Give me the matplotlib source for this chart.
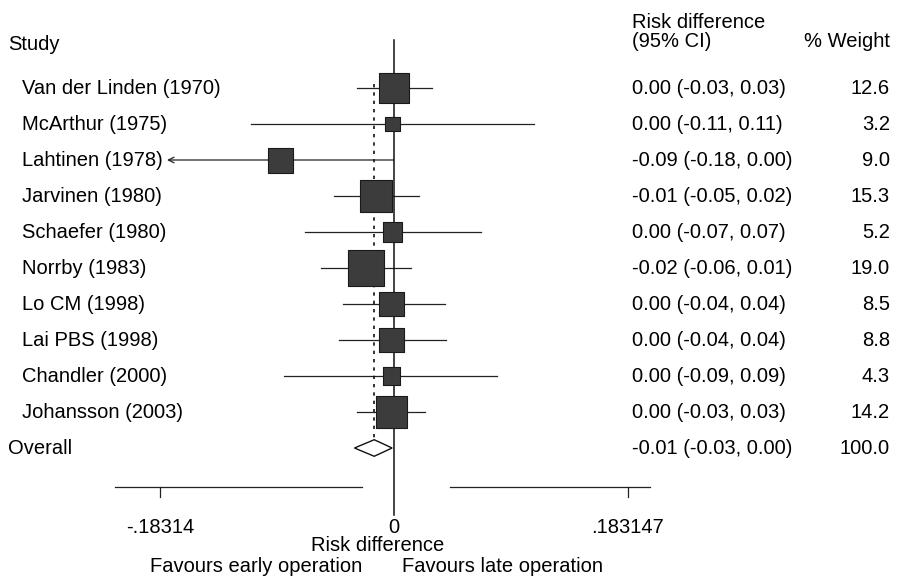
import matplotlib
matplotlib.use("Agg")
import matplotlib.pyplot as plt
import numpy as np
from matplotlib.transforms import blended_transform_factory
from matplotlib.patches import Polygon

plt.rcParams['font.family'] = ['Liberation Sans', 'DejaVu Sans']

studies = ["Van der Linden (1970)", "McArthur (1975)", "Lahtinen (1978)",
           "Jarvinen (1980)", "Schaefer (1980)", "Norrby (1983)",
           "Lo CM (1998)", "Lai PBS (1998)", "Chandler (2000)",
           "Johansson (2003)"]
est = [0.000, -0.001, -0.089, -0.014, -0.001, -0.022, -0.002, -0.002, -0.002, -0.002]
lo = [-0.029, -0.112, -0.178, -0.047, -0.07, -0.057, -0.04, -0.043, -0.086, -0.029]
hi = [0.030, 0.110, 0.000, 0.020, 0.068, 0.013, 0.040, 0.041, 0.081, 0.024]
weight = [12.6, 3.2, 9.0, 15.3, 5.2, 19.0, 8.5, 8.8, 4.3, 14.2]
ci_text = ["0.00 (-0.03, 0.03)", "0.00 (-0.11, 0.11)", "-0.09 (-0.18, 0.00)",
           "-0.01 (-0.05, 0.02)", "0.00 (-0.07, 0.07)", "-0.02 (-0.06, 0.01)",
           "0.00 (-0.04, 0.04)", "0.00 (-0.04, 0.04)", "0.00 (-0.09, 0.09)",
           "0.00 (-0.03, 0.03)"]
clipped = [False, False, True, False, False, False, False, False, False, False]

overall_est, overall_lo, overall_hi = -0.0155, -0.031, -0.0015
overall_text = "-0.01 (-0.03, 0.00)"
overall_weight = "100.0"

ticks = [-0.18314, 0, 0.183147]
tick_labels = ["-.18314", "0", ".183147"]

fig = plt.figure(figsize=(9.03, 5.79), dpi=100)
ax = fig.add_axes([0, 0, 1, 1])
ax.set_xlim(-394 / 1275, 509 / 1275)
ax.set_ylim(491 / 36, -88 / 36)
ax.axis("off")
tr = blended_transform_factory(ax.transAxes, ax.transData)

fs = 14.5
rows = np.arange(len(studies))
overall_row = len(studies)

# CI lines
for r, l, h, c in zip(rows, lo, hi, clipped):
    if c:
        ax.annotate("", xy=(l, r), xytext=(h, r),
                    arrowprops=dict(arrowstyle="->", lw=0.9, color="#222222",
                                    shrinkA=0, shrinkB=0))
    else:
        ax.plot([l, h], [r, r], color="#222222", lw=0.9)

# null line and overall dashed line
ax.plot([0, 0], [-1.33, 11.86], color="#111111", lw=1.1)
ax.plot([overall_est, overall_est], [-0.1, overall_row + 0.25],
        color="#111111", lw=1.2, ls=(0, (2, 3)))

# boxes
ax.scatter(est, rows, s=np.array(weight) * 36, marker="s",
           color="#3c3c3c", edgecolor="#1a1a1a", linewidth=0.8, zorder=3)

# overall diamond
h = 0.23
ax.add_patch(Polygon([(overall_lo, overall_row), (overall_est, overall_row - h),
                      (overall_hi, overall_row), (overall_est, overall_row + h)],
                     closed=True, facecolor="white", edgecolor="#111111", lw=1, zorder=3))

# bottom axis (scanned line is broken near zero)
axis_y = 11.08
ax.plot([-0.219, -0.025], [axis_y, axis_y], color="#222222", lw=0.9)
ax.plot([0.044, 0.201], [axis_y, axis_y], color="#222222", lw=0.9)
for t, lab in zip(ticks, tick_labels):
    if t != 0:
        ax.plot([t, t], [axis_y, axis_y + 0.28], color="#222222", lw=0.9)
    ax.text(t, 12.22, lab, ha="center", va="center", fontsize=fs)
ax.text(-0.013, 12.72, "Risk difference", ha="center", va="center", fontsize=fs)
ax.text(-0.108, 13.28, "Favours early operation", ha="center", va="center", fontsize=fs)
ax.text(0.085, 13.28, "Favours late operation", ha="center", va="center", fontsize=fs)

# headers
ax.text(0.009, -1.22, "Study", transform=tr, ha="left", va="center", fontsize=fs)
ax.text(0.700, -1.83, "Risk difference", transform=tr, ha="left", va="center", fontsize=fs)
ax.text(0.700, -1.28, "(95% CI)", transform=tr, ha="left", va="center", fontsize=fs)
ax.text(0.9856, -1.28, "% Weight", transform=tr, ha="right", va="center", fontsize=fs)

# table columns
for r, name, txt, w in zip(rows, studies, ci_text, weight):
    ax.text(0.0244, r, name, transform=tr, ha="left", va="center", fontsize=fs)
    ax.text(0.700, r, txt, transform=tr, ha="left", va="center", fontsize=fs)
    ax.text(0.9856, r, f"{w:.1f}", transform=tr, ha="right", va="center", fontsize=fs)
ax.text(0.009, overall_row, "Overall", transform=tr, ha="left", va="center", fontsize=fs)
ax.text(0.700, overall_row, overall_text, transform=tr, ha="left", va="center", fontsize=fs)
ax.text(0.9856, overall_row, overall_weight, transform=tr, ha="right", va="center", fontsize=fs)

fig.savefig("out.png", dpi=100, facecolor="white")
